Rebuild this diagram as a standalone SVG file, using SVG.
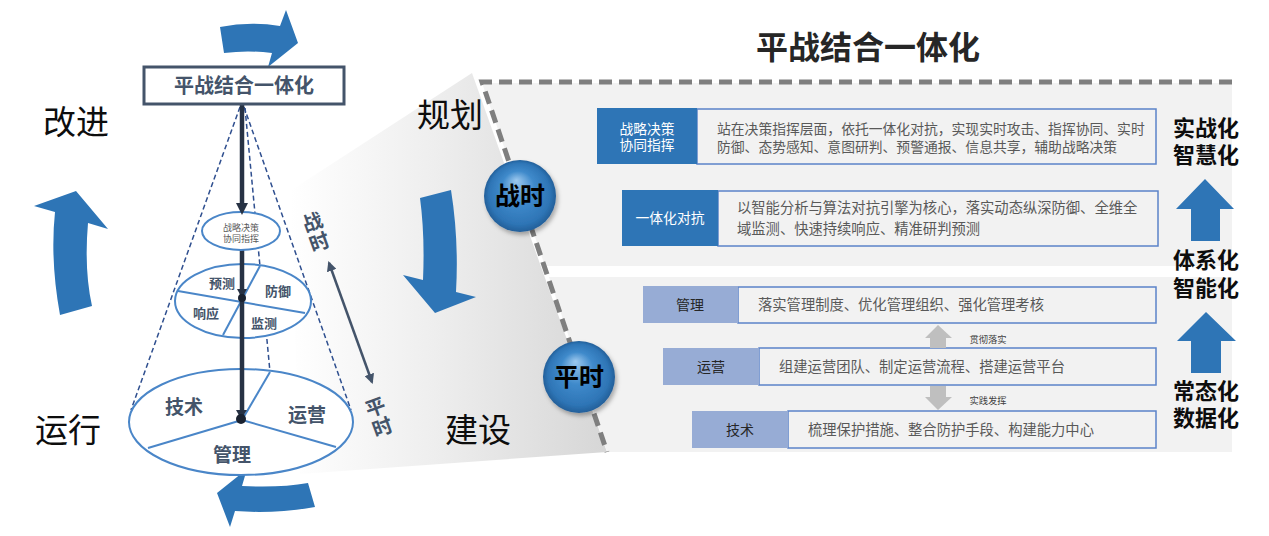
<svg xmlns="http://www.w3.org/2000/svg" width="1269" height="536" viewBox="0 0 1269 536">
<style>
text{font-family:'Liberation Sans','Noto Sans CJK SC',sans-serif;}
.big{font-size:33px;fill:#0d0d0d;text-anchor:middle;}
.cone{fill:#44546a;font-weight:bold;text-anchor:middle;}
.desc{font-size:14.3px;fill:#595959;}
.lblw{font-size:13.8px;fill:#ffffff;text-anchor:middle;}
.lbld{font-size:14px;fill:#262626;text-anchor:middle;}
.right{font-size:22px;font-weight:bold;fill:#0d0d0d;text-anchor:middle;}
.blue{fill:#2e75b6;}
.ell{fill:#ffffff;stroke:#4a86c8;stroke-width:2;}
.div{stroke:#4a86c8;stroke-width:2;fill:none;}
.dash{stroke:#2f4f8f;stroke-width:1.5;stroke-dasharray:5 3;fill:none;}
.dbox{fill:#f2f2f2;stroke:#5b83c9;stroke-width:1.5;}
.sbox{fill:#97acd5;}
.bbox{fill:#2e75b6;}
.small{font-size:9.3px;fill:#404040;text-anchor:middle;}
</style>
<defs>
<linearGradient id="wedge" x1="290" y1="0" x2="610" y2="0" gradientUnits="userSpaceOnUse">
<stop offset="0" stop-color="#ffffff"/>
<stop offset="0.45" stop-color="#eeeeee"/>
<stop offset="1" stop-color="#d6d6d6"/>
</linearGradient>
<radialGradient id="ball" cx="0.5" cy="0.5" r="0.5" fx="0.45" fy="0.28">
<stop offset="0" stop-color="#9cc8ee"/>
<stop offset="0.45" stop-color="#3f8acb"/>
<stop offset="0.85" stop-color="#2e75b6"/>
<stop offset="1" stop-color="#235f99"/>
</radialGradient>
<filter id="sh" x="-30%" y="-30%" width="160%" height="160%">
<feDropShadow dx="2" dy="3" stdDeviation="2" flood-color="#000" flood-opacity="0.3"/>
</filter>
<marker id="ah" markerWidth="10" markerHeight="10" refX="8" refY="5" orient="auto-start-reverse" markerUnits="userSpaceOnUse">
<path d="M0,0 L10,5 L0,10 Z" fill="#44546a"/>
</marker>
</defs>

<rect width="1269" height="536" fill="#ffffff"/>

<g id="wedge-bg">
<polygon points="290,191 472,73 607,452 300,474" fill="url(#wedge)"/>
</g>

<g id="panels">
<polygon points="482,83 1232,83 1232,266 545,266" fill="#f2f2f2"/>
<polygon points="549,277 1232,277 1232,452 607,452" fill="#f2f2f2"/>
<polyline points="1232,82 482,82 607,452" fill="none" stroke="#7f7f7f" stroke-width="5" stroke-dasharray="13 7"/>
</g>

<text x="868" y="59" style="font-size:32px;font-weight:bold;fill:#262626;text-anchor:middle">平战结合一体化</text>

<g id="cycle-arrows">
<path class="blue" d="M220,27 Q250,21 280,26 L286,10 L298,43 L268,67 L272,53 Q248,50 224,53 Z"/>
<path class="blue" d="M420,198 L451,190 Q459,240 456,292 L476,297 L435,313 L403,275 L423,280 Q425,235 420,198 Z"/>
<path class="blue" d="M308,483 L315,507 Q275,514 235,511 L230,527 L217,493 L247,469 L242,486 Q280,488 308,483 Z"/>
<path class="blue" d="M60,315 Q50,260 55,212 L34,206 L76,191 L108,229 L88,223 Q84,270 92,306 Z"/>
</g>

<text class="big" x="76" y="134">改进</text>
<text class="big" x="68" y="442">运行</text>
<text class="big" x="450" y="127">规划</text>
<text class="big" x="478" y="442">建设</text>

<g id="cone">
<line class="dash" x1="240" y1="107" x2="131" y2="410"/>
<line class="dash" x1="244" y1="107" x2="351" y2="410"/>
<line class="dash" x1="245" y1="108" x2="270" y2="372"/>
<ellipse class="ell" cx="241" cy="422" rx="112" ry="53"/>
<line class="div" x1="242" y1="420" x2="148" y2="448"/>
<line class="div" x1="242" y1="420" x2="336" y2="447"/>
<line class="div" x1="242" y1="420" x2="270" y2="372"/>
<ellipse class="ell" cx="243" cy="301" rx="68" ry="37"/>
<line class="div" x1="178" y1="291" x2="305" y2="313"/>
<line class="div" x1="260" y1="266" x2="223" y2="335"/>
<line x1="242" y1="250" x2="242" y2="420" stroke="#273244" stroke-width="4.5"/>
<ellipse class="ell" cx="241" cy="231" rx="39" ry="19"/>
<line x1="242" y1="104" x2="242" y2="206" stroke="#273244" stroke-width="4.5"/>
<polygon points="236,203 248,203 242,215" fill="#273244"/>
<polygon points="237,289 247,289 242,298" fill="#273244"/>
<circle cx="242" cy="298" r="4" fill="#1a2230"/>
<polygon points="236,410 247,410 241,419" fill="#273244"/>
<circle cx="241" cy="419" r="5" fill="#1a2230"/>
<text class="small" x="241" y="231" style="fill:#595959;font-size:9px">战略决策</text>
<text class="small" x="241" y="242" style="fill:#595959;font-size:9px">协同指挥</text>
<text class="cone" x="222" y="288" style="font-size:13px">预测</text>
<text class="cone" x="278" y="296" style="font-size:13px">防御</text>
<text class="cone" x="206" y="318" style="font-size:13px">响应</text>
<text class="cone" x="264" y="328" style="font-size:13px">监测</text>
<text class="cone" x="184" y="414" style="font-size:19px">技术</text>
<text class="cone" x="307" y="422" style="font-size:19px">运营</text>
<text class="cone" x="232" y="462" style="font-size:19px">管理</text>
</g>

<g id="top-box">
<rect x="144" y="67" width="200" height="37" fill="#ffffff" stroke="#44546a" stroke-width="3"/>
<text x="244" y="93" style="font-size:20px;font-weight:bold;fill:#44546a;text-anchor:middle">平战结合一体化</text>
</g>

<g id="phase-axis">
<line x1="329" y1="263" x2="372" y2="382" stroke="#44546a" stroke-width="2.5" marker-start="url(#ah)" marker-end="url(#ah)"/>
<text class="cone" style="font-size:20px" transform="translate(315,229) rotate(-20)" x="0" y="0">战</text>
<text class="cone" style="font-size:20px" transform="translate(322,249) rotate(-20)" x="0" y="0">时</text>
<text class="cone" style="font-size:20px" transform="translate(378,414) rotate(-20)" x="0" y="0">平</text>
<text class="cone" style="font-size:20px" transform="translate(385,434) rotate(-20)" x="0" y="0">时</text>
</g>

<g id="node-zhanshi">
<circle cx="520" cy="196" r="36" fill="url(#ball)" filter="url(#sh)"/>
<text x="520" y="205" style="font-size:25px;font-weight:bold;fill:#000;text-anchor:middle">战时</text>
</g>
<g id="node-pingshi">
<circle cx="579" cy="377" r="36" fill="url(#ball)" filter="url(#sh)"/>
<text x="579" y="386" style="font-size:25px;font-weight:bold;fill:#000;text-anchor:middle">平时</text>
</g>

<g id="row-zhanlue">
<rect class="dbox" x="697" y="109" width="459" height="55"/>
<rect class="bbox" x="597" y="108" width="100" height="56"/>
<text class="lblw" x="647" y="134">战略决策</text>
<text class="lblw" x="647" y="150">协同指挥</text>
<text class="desc" x="717" y="134" style="font-size:13.8px">站在决策指挥层面，依托一体化对抗，实现实时攻击、指挥协同、实时</text>
<text class="desc" x="717" y="151.5" style="font-size:13.8px">防御、态势感知、意图研判、预警通报、信息共享，辅助战略决策</text>
</g>

<g id="row-duikang">
<rect class="dbox" x="718" y="191" width="440" height="55"/>
<rect class="bbox" x="622" y="190" width="96" height="56"/>
<text class="lblw" x="670" y="223">一体化对抗</text>
<text class="desc" x="737" y="213">以智能分析与算法对抗引擎为核心，落实动态纵深防御、全维全</text>
<text class="desc" x="737" y="234">域监测、快速持续响应、精准研判预测</text>
</g>

<g id="row-guanli">
<rect class="dbox" x="738" y="287" width="418" height="36"/>
<rect class="sbox" x="643" y="286" width="95" height="37"/>
<text class="lbld" x="690" y="310">管理</text>
<text class="desc" x="758" y="310">落实管理制度、优化管理组织、强化管理考核</text>
</g>

<g id="row-yunying">
<rect class="dbox" x="759" y="348" width="397" height="37"/>
<rect class="sbox" x="663" y="348" width="96" height="37"/>
<text class="lbld" x="711" y="372">运营</text>
<text class="desc" x="779" y="372">组建运营团队、制定运营流程、搭建运营平台</text>
</g>

<g id="row-jishu">
<rect class="dbox" x="788" y="411" width="368" height="37"/>
<rect class="sbox" x="692" y="411" width="96" height="37"/>
<text class="lbld" x="740" y="434.5">技术</text>
<text class="desc" x="808" y="434.5">梳理保护措施、整合防护手段、构建能力中心</text>
</g>

<g id="connectors">
<polygon points="925,338 938,325 952,338 946,338 946,348 930,348 930,338" fill="#bfbfbf"/>
<polygon points="930,386 946,386 946,397 952,397 938,410 925,397 930,397" fill="#bfbfbf"/>
<text class="small" x="988" y="342.5">贯彻落实</text>
<text class="small" x="988" y="403.5">实践发挥</text>
</g>

<g id="maturity">
<text class="right" x="1206" y="136">实战化</text>
<text class="right" x="1206" y="163">智慧化</text>
<polygon class="blue" points="1176,209 1205,179 1234,209 1220,209 1220,241 1191,241 1191,209"/>
<text class="right" x="1206" y="268">体系化</text>
<text class="right" x="1206" y="295.5">智能化</text>
<polygon class="blue" points="1177,341 1206,312 1236,341 1221,341 1221,373 1191,373 1191,341"/>
<text class="right" x="1206" y="399">常态化</text>
<text class="right" x="1206" y="425.5">数据化</text>
</g>
</svg>
